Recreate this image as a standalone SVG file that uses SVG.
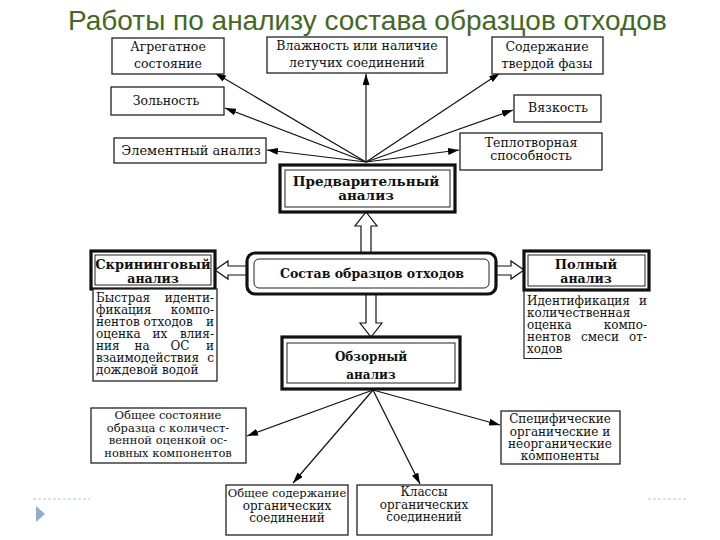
<svg xmlns="http://www.w3.org/2000/svg" width="720" height="540" viewBox="0 0 720 540">
<defs>
<marker id="ah" markerWidth="11" markerHeight="7" refX="11" refY="3.5" orient="auto" markerUnits="userSpaceOnUse"><path d="M0,0 L11,3.5 L0,7 z" fill="#000"/></marker>
<style>
.title{font-family:"Liberation Sans",Arial,sans-serif;font-size:28px;fill:#43691f}
.t{font-family:"DejaVu Serif",serif;font-size:12.5px;fill:#111;text-anchor:middle}
.s{font-family:"DejaVu Serif",serif;font-size:11.5px;fill:#111;text-anchor:middle}
.b{font-family:"DejaVu Serif",serif;font-weight:bold;fill:#111;text-anchor:middle}
.j{font-family:"DejaVu Serif",serif;font-size:12px;fill:#111}
.e{text-anchor:end}
.m{text-anchor:middle}
.box{fill:#fff;stroke:#222;stroke-width:1.3}
.thick{fill:#fff;stroke:#111;stroke-width:3.2}
.thin{fill:none;stroke:#222;stroke-width:1}
.ln{stroke:#222;stroke-width:1.2;fill:none}
.con{stroke:#111;stroke-width:1.2;fill:none;marker-end:url(#ah)}
.hollow{fill:#fff;stroke:#111;stroke-width:1.2;stroke-linejoin:miter}
</style>
</defs>
<rect width="720" height="540" fill="#fff"/>
<text class="title" x="68" y="30">Работы по анализу состава образцов отходов</text>

<g id="connectors">
<line class="con" x1="366" y1="162" x2="215" y2="73"/>
<line class="con" x1="366" y1="162" x2="366" y2="74"/>
<line class="con" x1="366" y1="162" x2="500" y2="73"/>
<line class="con" x1="366" y1="162" x2="225" y2="108"/>
<line class="con" x1="366" y1="162" x2="513" y2="110"/>
<line class="con" x1="366" y1="162" x2="267" y2="150"/>
<line class="con" x1="366" y1="162" x2="459" y2="150"/>
<polygon class="hollow" points="366,212 377,226 371,226 371,253 361,253 361,226 355,226"/>
<polygon class="hollow" points="371,337 382,323 376,323 376,294 366,294 366,323 360,323"/>
<polygon class="hollow" points="215,270 228,261 228,266 247,266 247,275 228,275 228,279"/>
<polygon class="hollow" points="524,270 511,261 511,266 496,266 496,275 511,275 511,279"/>
<line class="con" x1="373" y1="390" x2="247" y2="436"/>
<line class="con" x1="373" y1="390" x2="293" y2="483"/>
<line class="con" x1="373" y1="390" x2="420" y2="484"/>
<line class="con" x1="373" y1="390" x2="500" y2="425"/>
</g>

<g id="n-agr"><rect class="box" x="112" y="38" width="112" height="36"/>
<text class="t" x="168" y="51">Агрегатное</text><text class="t" x="168" y="68">состояние</text></g>
<g id="n-vlazh"><rect class="box" x="267" y="37" width="180" height="36"/>
<text class="t" x="357" y="50">Влажность или наличие</text><text class="t" x="357" y="67">летучих соединений</text></g>
<g id="n-sod"><rect class="box" x="492" y="37" width="111" height="37"/>
<text class="t" x="547" y="51">Содержание</text><text class="t" x="547" y="68">твердой фазы</text></g>
<g id="n-zol"><rect class="box" x="111" y="87" width="113" height="28"/>
<text class="t" x="166" y="105">Зольность</text></g>
<g id="n-vyaz"><rect class="box" x="514" y="95" width="87" height="27"/>
<text class="t" x="558" y="112">Вязкость</text></g>
<g id="n-elem"><rect class="box" x="114" y="138" width="152" height="25"/>
<text class="t" x="191" y="155" style="font-size:13px">Элементный анализ</text></g>
<g id="n-tepl"><rect class="box" x="460" y="133" width="142" height="37"/>
<text class="t" x="531" y="147">Теплотворная</text><text class="t" x="531" y="160">способность</text></g>

<g id="n-pred"><rect class="thick" x="280" y="165" width="175" height="47"/>
<rect class="thin" x="285" y="170" width="165" height="37"/>
<text class="b" x="366" y="186" style="font-size:13.5px">Предварительный</text><text class="b" x="366" y="200" style="font-size:13.5px">анализ</text></g>

<g id="n-sostav"><rect class="thick" x="247" y="253" width="249" height="41" rx="8"/>
<rect class="thin" x="254" y="259" width="235" height="29" rx="5"/>
<text class="b" x="372" y="278" style="font-size:12.5px">Состав образцов отходов</text></g>

<g id="n-skr"><rect class="thick" x="91" y="251" width="124" height="38"/>
<rect class="thin" x="95" y="255" width="116" height="30"/>
<text class="b" x="153" y="269" style="font-size:13px">Скрининговый</text><text class="b" x="153" y="283" style="font-size:12.5px">анализ</text>
<rect class="box" x="93" y="289" width="124" height="92"/>
<text class="j" y="302"><tspan x="96">Быстрая</tspan><tspan class="e" x="214">иденти-</tspan></text>
<text class="j" y="314"><tspan x="96">фикация</tspan><tspan class="e" x="214">компо-</tspan></text>
<text class="j" y="326"><tspan x="96">нентов отходов</tspan><tspan class="e" x="214">и</tspan></text>
<text class="j" y="338"><tspan x="96">оценка</tspan><tspan class="m" x="160">их</tspan><tspan class="e" x="214">влия-</tspan></text>
<text class="j" y="350"><tspan x="96">ния</tspan><tspan class="m" x="142">на</tspan><tspan class="m" x="180">ОС</tspan><tspan class="e" x="214">и</tspan></text>
<text class="j" y="362"><tspan x="96">взаимодействия</tspan><tspan class="e" x="214">с</tspan></text>
<text class="j" x="96" y="374">дождевой водой</text></g>

<g id="n-poln"><rect class="thick" x="524" y="251" width="125" height="39"/>
<rect class="thin" x="528" y="255" width="117" height="31"/>
<text class="b" x="586" y="269" style="font-size:13px">Полный</text><text class="b" x="586" y="283" style="font-size:12.5px">анализ</text>
<line class="ln" x1="524" y1="290" x2="524" y2="359"/>
<line class="ln" x1="524" y1="358.5" x2="562" y2="358.5"/>
<text class="j" y="305"><tspan x="527">Идентификация</tspan><tspan class="e" x="647">и</tspan></text>
<text class="j" x="527" y="317">количественная</text>
<text class="j" y="329"><tspan x="527">оценка</tspan><tspan class="e" x="647">компо-</tspan></text>
<text class="j" y="341"><tspan x="527">нентов</tspan><tspan class="m" x="600">смеси</tspan><tspan class="e" x="647">от-</tspan></text>
<text class="j" x="527" y="353">ходов</text></g>

<g id="n-obz"><rect class="thick" x="282" y="337" width="178" height="52"/>
<rect class="thin" x="287" y="343" width="168" height="40"/>
<text class="b" x="371" y="361" style="font-size:12px">Обзорный</text><text class="b" x="371" y="379" style="font-size:12px">анализ</text></g>

<g id="n-obsh"><rect class="box" x="91" y="408" width="155" height="55"/>
<text class="s" x="168" y="419">Общее состояние</text><text class="s" x="168" y="431.5">образца с количест-</text>
<text class="s" x="168" y="444">венной оценкой ос-</text><text class="s" x="168" y="456.5">новных компонентов</text></g>
<g id="n-spec"><rect class="box" x="501" y="411" width="119" height="53"/>
<text class="s" x="560" y="423" style="font-size:12px">Специфические</text><text class="s" x="560" y="435.5" style="font-size:12px">органические и</text>
<text class="s" x="560" y="448" style="font-size:12px">неорганические</text><text class="s" x="560" y="460" style="font-size:12px">компоненты</text></g>
<g id="n-obsod"><rect class="box" x="226" y="485" width="122" height="50"/>
<text class="s" x="287" y="497">Общее содержание</text><text class="s" x="287" y="509.5" style="font-size:12px">органических</text>
<text class="s" x="287" y="522" style="font-size:12px">соединений</text></g>
<g id="n-klass"><rect class="box" x="357" y="485" width="135" height="50"/>
<text class="s" x="424" y="496" style="font-size:12px">Классы</text><text class="s" x="424" y="508.5" style="font-size:12px">органических</text>
<text class="s" x="424" y="521" style="font-size:12px">соединений</text></g>

<g id="decor">
<line x1="33" y1="499" x2="90" y2="499" stroke="#b8c8d8" stroke-width="1" stroke-dasharray="3,2"/>
<line x1="648" y1="499" x2="686" y2="499" stroke="#b8c8d8" stroke-width="1" stroke-dasharray="3,2"/>
<polygon points="36,506 45,514 36,522" fill="#8fb0c8"/>
</g>
</svg>
